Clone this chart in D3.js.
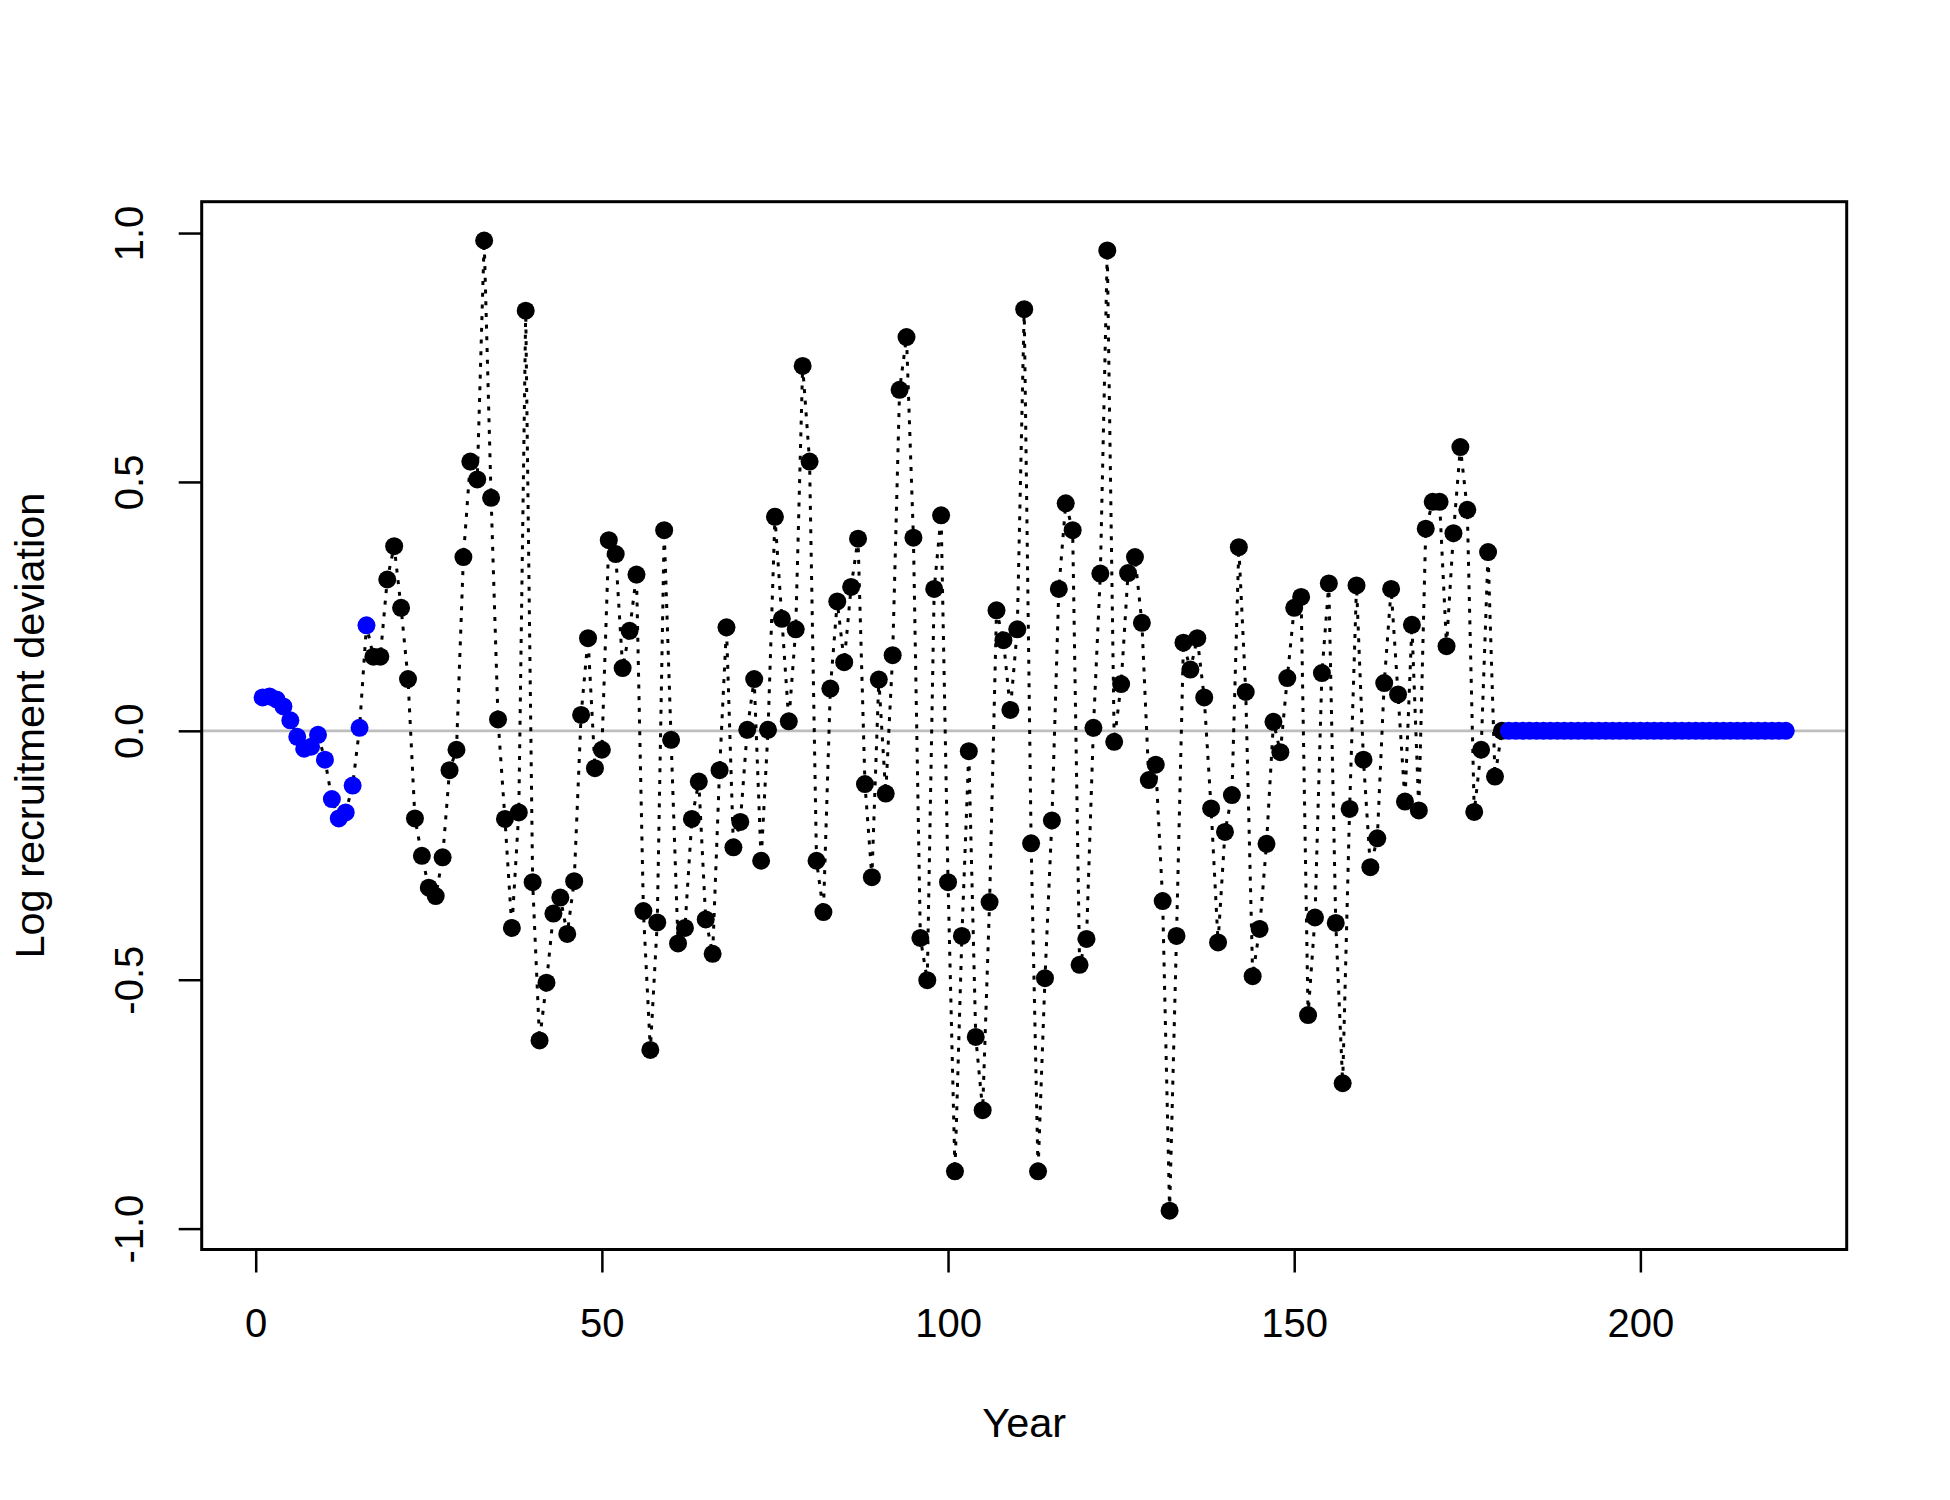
<!DOCTYPE html>
<html>
<head>
<meta charset="utf-8">
<script src="https://cdn.jsdelivr.net/npm/d3@7"></script>
<style>
  html, body { margin: 0; padding: 0; background: #ffffff; }
  svg { display: block; }
  text { font-family: "Liberation Sans", Arial, sans-serif; fill: #000; }
</style>
</head>
<body>
<svg id="chart" width="1950" height="1500"></svg>
<script>
// ---- data ----
const earlyStartYear = 1;
const earlyDevs = [0.067, 0.069, 0.063, 0.049, 0.021, -0.012, -0.036, -0.032, -0.008, -0.058,
                   -0.137, -0.176, -0.164, -0.110, 0.006, 0.212];

const mainStartYear = 17;
const mainDevs = [
  0.149, 0.149, 0.304, 0.371, 0.247, 0.104, -0.176, -0.251, -0.315, -0.332,
  -0.254, -0.079, -0.038, 0.349, 0.541, 0.505, 0.985, 0.468, 0.023, -0.177,
  -0.396, -0.164, 0.844, -0.304, -0.622, -0.506, -0.367, -0.335, -0.408, -0.302,
  0.032, 0.186, -0.075, -0.038, 0.383, 0.355, 0.126, 0.201, 0.314, -0.362,
  -0.641, -0.385, 0.403, -0.018, -0.427, -0.396, -0.177, -0.102, -0.379, -0.448,
  -0.079, 0.208, -0.234, -0.183, 0.002, 0.104, -0.261, 0.002, 0.430, 0.225,
  0.019, 0.204, 0.733, 0.541, -0.261, -0.364, 0.085, 0.260, 0.138, 0.289,
  0.386, -0.107, -0.294, 0.103, -0.126, 0.152, 0.685, 0.791, 0.388, -0.416,
  -0.501, 0.285, 0.433, -0.304, -0.885, -0.412, -0.041, -0.615, -0.762, -0.344,
  0.242, 0.182, 0.042, 0.204, 0.847, -0.226, -0.885, -0.497, -0.180, 0.285,
  0.457, 0.403, -0.470, -0.418, 0.006, 0.316, 0.965, -0.022, 0.094, 0.317,
  0.349, 0.217, -0.099, -0.068, -0.342, -0.964, -0.412, 0.177, 0.123, 0.186,
  0.067, -0.156, -0.425, -0.203, -0.129, 0.369, 0.078, -0.493, -0.398, -0.227,
  0.018, -0.043, 0.106, 0.247, 0.269, -0.571, -0.375, 0.116, 0.296, -0.386,
  -0.708, -0.157, 0.292, -0.058, -0.274, -0.216, 0.096, 0.285, 0.073, -0.142,
  0.213, -0.160, 0.406, 0.460, 0.460, 0.170, 0.397, 0.570, 0.444, -0.163,
  -0.038, 0.359, -0.092, 0.000
];

const forecastStartYear = 181;
const forecastDevs = [
  0, 0, 0, 0, 0, 0, 0, 0, 0, 0,
  0, 0, 0, 0, 0, 0, 0, 0, 0, 0,
  0, 0, 0, 0, 0, 0, 0, 0, 0, 0,
  0, 0, 0, 0, 0, 0, 0, 0, 0, 0,
  0
];

const xTicks = [0, 50, 100, 150, 200];
const xTickLabels = ["0", "50", "100", "150", "200"];
const yTicks = [-1.0, -0.5, 0.0, 0.5, 1.0];
const yTickLabels = ["-1.0", "-0.5", "0.0", "0.5", "1.0"];
const xLabel = "Year";
const yLabel = "Log recruitment deviation";

// ---- assemble points ----
const groups = [
  { start: earlyStartYear, vals: earlyDevs, color: "#0000FF" },
  { start: mainStartYear, vals: mainDevs, color: "#000000" },
  { start: forecastStartYear, vals: forecastDevs, color: "#0000FF" }
];
const pts = [];
groups.forEach(g => g.vals.forEach((v, i) => pts.push({ year: g.start + i, dev: v, color: g.color })));
pts.sort((a, b) => a.year - b.year);

// ---- layout ----
const box = { left: 201.7, right: 1846.7, top: 201.7, bottom: 1249.5 };
const tickFont = 40;
const labelFont = 41.5;

const xExt = d3.extent(pts, d => d.year);
const xPad = (xExt[1] - xExt[0]) * 0.04;
const yExt = d3.extent(pts, d => d.dev);
const yPad = (yExt[1] - yExt[0]) * 0.04;

const x = d3.scaleLinear().domain([xExt[0] - xPad, xExt[1] + xPad]).range([box.left, box.right]);
const y = d3.scaleLinear().domain([yExt[0] - yPad, yExt[1] + yPad]).range([box.bottom, box.top]);

const svg = d3.select("#chart");
svg.append("rect").attr("x", 0).attr("y", 0).attr("width", 1950).attr("height", 1500).attr("fill", "#fff");

// horizontal reference line at 0
svg.append("line")
  .attr("x1", box.left).attr("x2", box.right)
  .attr("y1", y(0)).attr("y2", y(0))
  .attr("stroke", "#BEBEBE").attr("stroke-width", 2.6);

// dotted connecting line
const line = d3.line().x(d => x(d.year)).y(d => y(d.dev));
svg.append("path")
  .datum(pts)
  .attr("d", line)
  .attr("fill", "none")
  .attr("stroke", "#000")
  .attr("stroke-width", 3)
  .attr("stroke-dasharray", "4 7.7");

// points
svg.append("g").selectAll("circle")
  .data(pts)
  .join("circle")
  .attr("cx", d => x(d.year))
  .attr("cy", d => y(d.dev))
  .attr("r", 9)
  .attr("fill", d => d.color);

// box
svg.append("rect")
  .attr("x", box.left).attr("y", box.top)
  .attr("width", box.right - box.left).attr("height", box.bottom - box.top)
  .attr("fill", "none").attr("stroke", "#000").attr("stroke-width", 3);

// x axis
const xAxis = d3.axisBottom(x).tickValues(xTicks).tickSize(23).tickPadding(0)
  .tickFormat((d, i) => xTickLabels[i]);
const gx = svg.append("g").attr("transform", `translate(0,${box.bottom})`).call(xAxis);
gx.select(".domain").remove();
gx.selectAll(".tick line").attr("stroke", "#000").attr("stroke-width", 2.5);
gx.selectAll(".tick text")
  .attr("y", 1337 - box.bottom).attr("dy", null)
  .attr("font-size", tickFont)
  .attr("font-family", "'Liberation Sans', Arial, sans-serif")
  .attr("fill", "#000");

// y axis
const yAxis = d3.axisLeft(y).tickValues(yTicks).tickSize(23).tickPadding(0)
  .tickFormat((d, i) => yTickLabels[i]);
const gy = svg.append("g").attr("transform", `translate(${box.left},0)`).call(yAxis);
gy.select(".domain").remove();
gy.selectAll(".tick line").attr("stroke", "#000").attr("stroke-width", 2.5);
gy.selectAll(".tick text")
  .attr("x", null).attr("dy", null)
  .attr("transform", `translate(${143 - box.left},0) rotate(-90)`)
  .attr("text-anchor", "middle")
  .attr("font-size", tickFont)
  .attr("font-family", "'Liberation Sans', Arial, sans-serif")
  .attr("fill", "#000");

// axis titles
svg.append("text")
  .attr("x", (box.left + box.right) / 2).attr("y", 1437)
  .attr("text-anchor", "middle").attr("font-size", labelFont)
  .text(xLabel);

svg.append("text")
  .attr("transform", `translate(44,${(box.top + box.bottom) / 2}) rotate(-90)`)
  .attr("text-anchor", "middle").attr("font-size", labelFont)
  .text(yLabel);
</script>
</body>
</html>
